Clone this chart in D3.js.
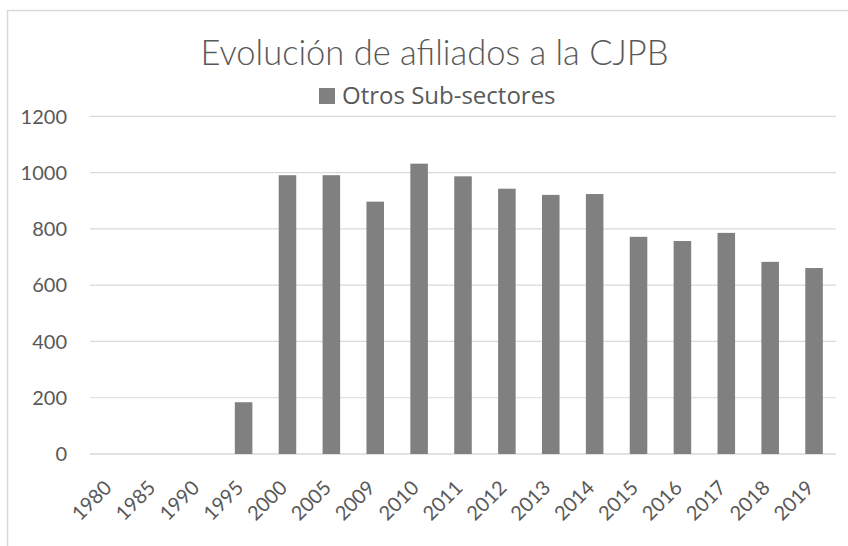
<!DOCTYPE html>
<html>
<head>
    <meta charset="utf-8">
    <title>Evolución de afiliados a la CJPB</title>
    <script src="https://d3js.org/d3.v7.min.js"></script>
    <style>
        body { margin: 0; background: #fff; }
        text { font-family: Lato, "Open Sans", sans-serif; fill: #595959; }
    </style>
</head>
<body>
    <script>
        // datos
        var years = ["1980", "1985", "1990", "1995", "2000", "2005", "2009", "2010", "2011",
                     "2012", "2013", "2014", "2015", "2016", "2017", "2018", "2019"];
        var otros = [0, 0, 0, 184, 991, 991, 897, 1032, 987, 943, 921, 924, 772, 757, 786, 683, 661];
        var yTicks = [0, 200, 400, 600, 800, 1000, 1200];
        var title = "Evolución de afiliados a la CJPB";
        var serieName = "Otros Sub-sectores";

        var width = 848;
        var height = 546;

        var svg = d3.select("body").append("svg")
            .attr("width", width)
            .attr("height", height);

        // marco del grafico (solo arriba e izquierda visibles)
        svg.append("line")
            .attr("x1", 7).attr("x2", width).attr("y1", 10.5).attr("y2", 10.5)
            .style("stroke", "#d9d9d9").style("stroke-width", 1.5);
        svg.append("line")
            .attr("x1", 7.5).attr("x2", 7.5).attr("y1", 10).attr("y2", height)
            .style("stroke", "#d9d9d9").style("stroke-width", 1.5);

        var x = d3.scaleBand()
            .domain(years)
            .range([90, 836])
            .paddingInner(0.6)
            .paddingOuter(0.3);

        var y = d3.scaleLinear()
            .domain([0, 1200])
            .range([454, 116.4]);

        // lineas de cuadricula
        svg.append("g")
            .selectAll("line")
            .data(yTicks)
            .enter()
            .append("line")
            .attr("x1", 90).attr("x2", 836)
            .attr("y1", function(d) { return y(d); })
            .attr("y2", function(d) { return y(d); })
            .style("stroke", "#d9d9d9")
            .style("stroke-width", function(d) { return d === 0 ? 1.5 : 1.2; });

        // eje y
        svg.append("g")
            .selectAll("text")
            .data(yTicks)
            .enter()
            .append("text")
            .attr("x", 67)
            .attr("y", function(d) { return y(d); })
            .attr("dy", "0.36em")
            .attr("text-anchor", "end")
            .style("font-size", "20px")
            .text(function(d) { return d; });

        // barras
        svg.append("g")
            .selectAll("rect")
            .data(otros)
            .enter()
            .append("rect")
            .attr("x", function(d, i) { return x(years[i]); })
            .attr("width", x.bandwidth())
            .attr("y", function(d) { return y(d); })
            .attr("height", function(d) { return y(0) - y(d); })
            .attr("fill", "#808080");

        // etiquetas del eje x
        svg.append("g")
            .selectAll("text")
            .data(years)
            .enter()
            .append("text")
            .attr("transform", function(d) {
                return "translate(" + (x(d) + x.bandwidth() / 2 + 1) + ",489) rotate(-45)";
            })
            .attr("text-anchor", "end")
            .style("font-size", "20px")
            .text(function(d) { return d; });

        // titulo
        svg.append("text")
            .attr("x", 434.5)
            .attr("y", 65)
            .attr("text-anchor", "middle")
            .style("font-size", "34.5px")
            .style("font-weight", 300)
            .text(title);

        // leyenda
        var leg = svg.append("g");
        leg.append("rect")
            .attr("x", 319).attr("y", 88)
            .attr("width", 16).attr("height", 16)
            .attr("fill", "#808080");
        leg.append("text")
            .attr("x", 342)
            .attr("y", 104)
            .style("font-family", "'Open Sans', sans-serif")
            .style("font-size", "24px")
            .text(serieName);
    </script>
</body>
</html>
